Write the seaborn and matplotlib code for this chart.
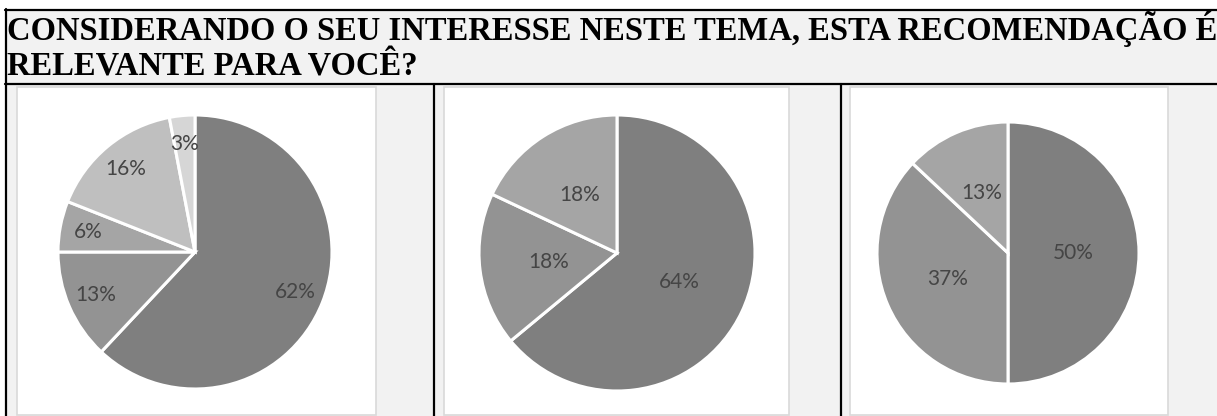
import matplotlib
matplotlib.use("Agg")
import matplotlib.pyplot as plt
from matplotlib.patches import Rectangle
from matplotlib.lines import Line2D
import seaborn as sns

# header text of the table
TITLE_LINES = [
    "CONSIDERANDO O SEU INTERESSE NESTE TEMA, ESTA RECOMENDAÇÃO É",
    "RELEVANTE PARA VOCÊ?",
]

# slice shares, clockwise from 12 o'clock
pie1_values = [62, 13, 6, 16, 3]
pie2_values = [64, 18, 18]
pie3_values = [50, 37, 13]

GREYS = ["#7f7f7f", "#939393", "#a5a5a5", "#bfbfbf", "#d6d6d6"]
BG = "#f2f2f2"
PANEL_EDGE = "#d9d9d9"

W, H = 1217, 416

sns.set_theme(style="white")
plt.rcParams["font.family"] = ["Lato", "DejaVu Sans"]


def fbox(x0, y0, x1, y1):
    # pixel box (top-left origin) -> figure fraction [l, b, w, h]
    return [x0 / W, 1 - y1 / H, (x1 - x0) / W, (y1 - y0) / H]


def rect(fig, x0, y0, x1, y1, **kw):
    l, b, w, h = fbox(x0, y0, x1, y1)
    fig.add_artist(Rectangle((l, b), w, h, transform=fig.transFigure,
                             zorder=-2, **kw))


def line(fig, xs, ys, **kw):
    fig.add_artist(Line2D([x / W for x in xs], [1 - y / H for y in ys],
                          transform=fig.transFigure, color="black", lw=1.6,
                          zorder=-1, **kw))


fig = plt.figure(figsize=(W / 100, H / 100), dpi=100)
fig.patch.set_facecolor("white")

# table background: header row and the three cells
rect(fig, 6, 10, W, H, facecolor=BG, edgecolor="none")

# white chart panels inside each cell
panels = [(17, 87, 376, 415), (444, 87, 789, 415), (850, 87, 1168, 415)]
for x0, y0, x1, y1 in panels:
    rect(fig, x0, y0, x1, y1, facecolor="white", edgecolor=PANEL_EDGE, lw=1.2)

# table borders
line(fig, [5, W], [9.5, 9.5])
line(fig, [6, 6], [9, H])
line(fig, [5, W], [84, 84])
line(fig, [433.5, 433.5], [84, H])
line(fig, [841, 841], [84, H])

# title
for txt, base in zip(TITLE_LINES, [40, 75]):
    fig.text(7 / W, 1 - base / H, txt, fontsize=23.5, fontweight="bold",
             family="Liberation Serif", va="baseline", ha="left", color="black")

# pies: (values, centre x, centre y, radius in px, label distance)
pies = [
    (pie1_values, 195, 252, 137, 0.79),
    (pie2_values, 617, 253, 138, 0.50),
    (pie3_values, 1008, 253, 131, 0.50),
]

for values, cx, cy, r, pdist in pies:
    ax = fig.add_axes(fbox(cx - r, cy - r, cx + r, cy + r))
    ax.set_zorder(5)
    ax.patch.set_visible(False)
    ax.pie(values, colors=GREYS[:len(values)], startangle=90, counterclock=False,
           autopct="%1.0f%%", pctdistance=pdist,
           wedgeprops=dict(edgecolor="white", linewidth=2.2),
           textprops=dict(color="#454545", fontsize=15))
    ax.set_xlim(-1, 1)
    ax.set_ylim(-1, 1)
    ax.set_aspect("equal")
    ax.axis("off")

fig.savefig("out.png", dpi=100)
